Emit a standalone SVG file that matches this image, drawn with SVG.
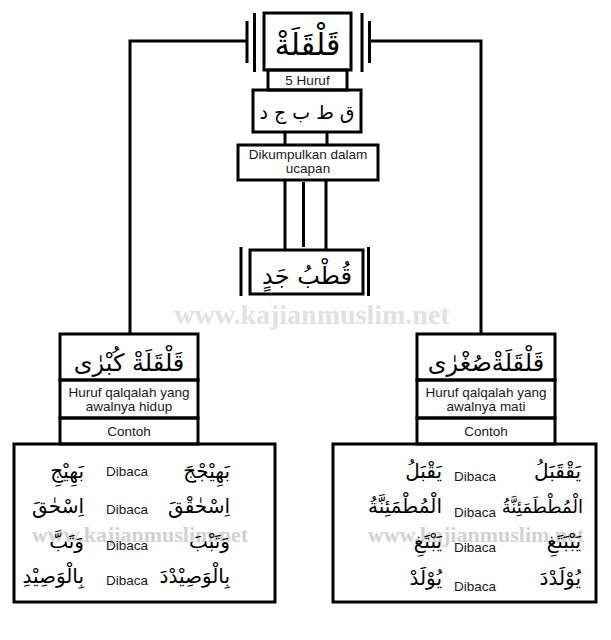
<svg xmlns="http://www.w3.org/2000/svg" width="611" height="640" viewBox="0 0 611 640">
<style>
.box{fill:none;stroke:#000;stroke-width:3}
.ln{stroke:#000;stroke-width:3;fill:none}
.lat{font-family:"Liberation Sans","DejaVu Sans",sans-serif;font-size:13.5px;fill:#1a1a1a;text-anchor:middle}
.ar{font-family:"DejaVu Sans",sans-serif;fill:#000}
.arm{text-anchor:middle}
.are{text-anchor:end}
.row{font-size:20px}
.wm{font-family:"Liberation Serif","Times New Roman",serif;font-weight:bold;text-anchor:middle}
</style>
<rect x="0" y="0" width="611" height="640" fill="#fff"/>
<g id="watermarks">
<text class="wm" x="312" y="324" font-size="28" fill="#e2e2e2">www.kajianmuslim.net</text>
<text class="wm" x="140" y="542" font-size="22" fill="#d2d2d2">www.kajianmuslim.net</text>
<text class="wm" x="476" y="542" font-size="22" fill="#d2d2d2">www.kajianmuslim.net</text>
</g>
<g id="connectors">
<path class="ln" d="M247,41 H130 V334"/>
<path class="ln" d="M369.5,41 H481 V334"/>
<path class="ln" d="M247,21 V63 M254.5,13 V72 M362,13 V72 M369.5,21 V63"/>
<path class="ln" d="M285,132 V145 M327,132 V145"/>
<path class="ln" d="M285,180 V250 M326,180 V250 M303.5,182 V247"/>
<path class="ln" d="M241,247 V296 M368.5,247 V296"/>
</g>
<g id="qalqalah">
<rect class="box" x="264" y="13" width="87" height="57"/>
<text class="ar arm" x="307.5" y="55" font-size="30">قَلْقَلَةْ</text>
</g>
<g id="lima-huruf">
<rect class="box" x="268" y="70" width="79" height="20"/>
<text class="lat" x="307.5" y="85">5 Huruf</text>
</g>
<g id="huruf">
<rect class="box" x="253" y="90" width="108" height="42"/>
<text class="ar arm" x="307" y="119" font-size="19">ق ط ب ج د</text>
</g>
<g id="dikumpulkan">
<rect class="box" x="238" y="145" width="140" height="35"/>
<text class="lat" x="308" y="159">Dikumpulkan dalam</text>
<text class="lat" x="308" y="173">ucapan</text>
</g>
<g id="qutb-jad">
<rect class="box" x="250" y="250" width="113" height="44"/>
<text class="ar arm" x="307" y="284" font-size="24">قُطْبُ جَدٍ</text>
</g>
<g id="kubra">
<rect class="box" x="60" y="334" width="138" height="46"/>
<text class="ar arm" x="129" y="371" font-size="24">قَلْقَلَةْ كُبْرٰى</text>
<rect class="box" x="60" y="380" width="138" height="38"/>
<text class="lat" x="129" y="397">Huruf qalqalah yang</text>
<text class="lat" x="129" y="411">awalnya hidup</text>
<rect class="box" x="60" y="418" width="138" height="26"/>
<text class="lat" x="129" y="436">Contoh</text>
</g>
<g id="sughra">
<rect class="box" x="417" y="334" width="138" height="46"/>
<text class="ar arm" x="486" y="371" font-size="24">قَلْقَلَةْصُغْرٰى</text>
<rect class="box" x="417" y="380" width="138" height="38"/>
<text class="lat" x="486" y="397">Huruf qalqalah yang</text>
<text class="lat" x="486" y="411">awalnya mati</text>
<rect class="box" x="417" y="418" width="138" height="26"/>
<text class="lat" x="486" y="436">Contoh</text>
</g>
<g id="contoh-kubra">
<rect class="box" x="14" y="444" width="261" height="158"/>
<text class="ar are row" x="230" y="478">بَهِيْجْجَ</text>
<text class="lat" x="127" y="476">Dibaca</text>
<text class="ar are row" x="84" y="478">بَهِيْجِ</text>
<text class="ar are row" x="230" y="513">اِسْحٰقْقَ</text>
<text class="lat" x="127" y="514">Dibaca</text>
<text class="ar are row" x="84" y="513">اِسْحٰقَ</text>
<text class="ar are row" x="230" y="548">وَتَبْبَ</text>
<text class="lat" x="127" y="550">Dibaca</text>
<text class="ar are row" x="84" y="548">وَتَبَّ</text>
<text class="ar are row" x="230" y="583">بِالْوَصِيْدْدَ</text>
<text class="lat" x="127" y="585">Dibaca</text>
<text class="ar are row" x="84" y="583">بِالْوَصِيْدِ</text>
</g>
<g id="contoh-sughra">
<rect class="box" x="333" y="444" width="263" height="158"/>
<text class="ar are row" x="581" y="478">يَقْقَبَلُ</text>
<text class="lat" x="475" y="481">Dibaca</text>
<text class="ar are row" x="442" y="478">يَقْبَلُ</text>
<text class="ar are" x="583" y="513" font-size="18">الْمُطْطَمَئِنَّةُ</text>
<text class="lat" x="475" y="517">Dibaca</text>
<text class="ar are row" x="442" y="513">الْمُطْمَئِنَّةُ</text>
<text class="ar are row" x="581" y="548">يَبْبَتَغِ</text>
<text class="lat" x="475" y="552">Dibaca</text>
<text class="ar are row" x="442" y="548">يَبْتَغِ</text>
<text class="ar are row" x="581" y="585">يُوْلَدْدَ</text>
<text class="lat" x="475" y="591">Dibaca</text>
<text class="ar are row" x="442" y="585">يُوْلَدْ</text>
</g>
</svg>
